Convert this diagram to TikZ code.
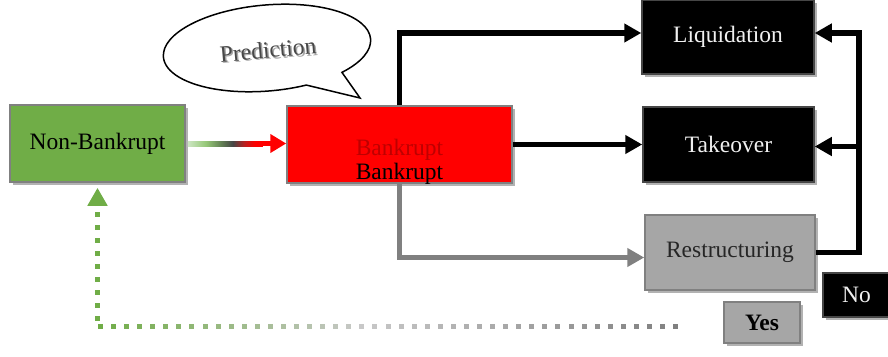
\documentclass[tikz,border=0pt]{standalone}
\usepackage{fontspec}
\setmainfont{Liberation Serif}
\usetikzlibrary{arrows.meta,shadows,shapes.callouts,calc}
\definecolor{nbgreen}{RGB}{112,173,71}
\definecolor{boxgray}{RGB}{128,128,128}
\definecolor{darkline}{RGB}{70,70,70}
\definecolor{rsgray}{RGB}{166,166,166}
\definecolor{faintred}{RGB}{190,0,0}
\definecolor{lgray}{RGB}{200,200,200}
\definecolor{mgray}{RGB}{128,128,128}
\definecolor{paleg}{RGB}{205,230,195}
\definecolor{lightg}{RGB}{150,200,120}
\definecolor{darkg}{RGB}{100,130,85}
\definecolor{dgray}{RGB}{70,70,70}
\definecolor{dred}{RGB}{190,30,30}
\pgfdeclarehorizontalshading{nbshade}{100bp}{color(0bp)=(paleg); color(25bp)=(paleg); color(37bp)=(lightg); color(47bp)=(darkg); color(55bp)=(dgray); color(63bp)=(dred); color(70bp)=(red); color(100bp)=(red)}
\tikzset{
  box/.style={draw, line width=1.5pt, inner sep=0pt,
    drop shadow={shadow xshift=3pt, shadow yshift=-3pt, fill=black!30, opacity=1}},
  blackbox/.style={box, fill=black, draw=darkline, text=white!94!black},
  blk/.style={line width=5.5pt, -{Triangle[length=17pt,width=18pt]}},
  gryarrow/.style={line width=5pt, draw=boxgray, -{Triangle[length=17pt,width=18pt]}},
}
\begin{document}
\begin{tikzpicture}[x=1pt,y=-1pt, font=\fontsize{23.5}{28}\selectfont]
\useasboundingbox (0,0) rectangle (888,356);

% speech bubble
\node[ellipse callout, draw, line width=1.5pt, fill=white, minimum width=208pt, minimum height=86pt, inner sep=0pt,
  rotate=5, callout absolute pointer={(360,98)}, callout pointer arc=24] (bubble) at (267,48) {\phantom{x}};
\node[rotate=5, text=black!35] (predshadow) at (269.5,51.5) {Prediction};
\node[rotate=5, text=black!72] (pred) at (268,50) {Prediction};

% boxes
\node[box, fill=nbgreen, draw=boxgray, minimum width=175pt, minimum height=77pt] (nb) at (97.5,143.5) {Non-Bankrupt};
\node[box, fill=red, draw=boxgray, minimum width=225pt, minimum height=77pt] (bk) at (399.5,144.5) {};
\node[text=faintred] (bkfaint) at ($(bk.center)+(0,5)$) {Bankrupt};
\node (bktxt) at ($(bk.center)+(0,29)$) {Bankrupt};
\node[blackbox, minimum width=172pt, minimum height=74pt] (liq) at (728,37) {Liquidation};
\node[blackbox, minimum width=171pt, minimum height=75pt] (tk) at (728.5,144.5) {Takeover};
\node[box, fill=rsgray, draw=boxgray, text=black!85, minimum width=170pt, minimum height=75pt] (rs) at (730,252.5) {Restructuring};
\node[blackbox, minimum width=67pt, minimum height=44pt] (no) at (856.5,295) {No};
\node[box, fill=rsgray, draw=boxgray, minimum width=76pt, minimum height=41pt,
  font=\fontsize{23.5}{28}\selectfont\bfseries] (yes) at (762,322.5) {Yes};

% non-bankrupt -> bankrupt (gradient)
\draw[red, line width=5pt, -{Triangle[length=16pt,width=18pt]}] ($(nb.east)+(70,0)$) -- (nb.east -| bk.west);
\shade[shading=nbshade] ($(nb.east)+(2,-2.5)$) rectangle ($(nb.east)+(77,2.5)$);

% bankrupt -> outcomes
\draw[blk] (bk.north) |- ($(liq.west)+(0,-4)$);
\draw[blk] (bk.east) -- (tk.west);
\draw[gryarrow] (bk.south) |- ($(rs.west)+(0,5)$);

% restructuring fails -> liquidation / takeover
\coordinate (bus) at ($(rs.east)+(43,0)$);
\draw[blk] (rs.east) -- (bus) |- ($(liq.east)+(0,-4)$);
\draw[blk] ($(bus |- tk.east)+(0,2)$) -- ($(tk.east)+(0,2)$);

% restructuring succeeds -> back to non-bankrupt (dotted)
\coordinate (dend) at (673,326);
\coordinate (dcorner) at (nb.south |- dend);
\foreach \i in {0,...,44}{
  \pgfmathtruncatemacro\pa{min(100,100*\i/20)}
  \pgfmathtruncatemacro\pb{max(0,100*(\i-20)/24)}
  \colorlet{dotc}{lgray!\pa!nbgreen}
  \ifnum\pb>0 \colorlet{dotc}{mgray!\pb!lgray}\fi
  \fill[dotc] ($(dcorner)+(3+13.07*\i-2.5,-2.5)$) rectangle +(5,5);
}
\foreach \j in {1,...,9}{
  \fill[nbgreen] ($(dcorner)+(-2.5,-8-12.9*\j+12.9-2.5)$) rectangle +(5,5);
}
\draw[nbgreen, line width=5pt, -{Triangle[length=18pt,width=19pt]}] ($(dcorner)+(0,-120)$) -- ($(nb.south)+(0,5)$);
\end{tikzpicture}
\end{document}
